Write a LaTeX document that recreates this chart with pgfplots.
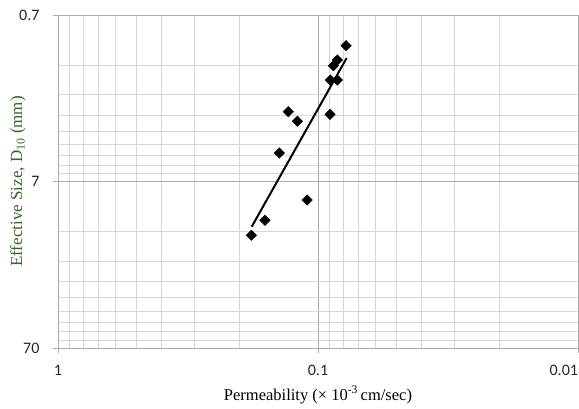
\documentclass[border=0pt]{standalone}
\usepackage{pgfplots}
\pgfplotsset{compat=1.18}
\usepackage{fontspec}
\setmainfont{Liberation Serif}
\newfontfamily\tickfont{Carlito}
\definecolor{ylab}{RGB}{56,100,44}
\definecolor{majgrid}{RGB}{170,170,170}
\definecolor{mingrid}{RGB}{215,215,215}
\begin{document}
\begin{tikzpicture}
\begin{axis}[
  at={(0,0)}, anchor=south west,
  scale only axis, width=520pt, height=333pt,
  xmode=log, ymode=log, x dir=reverse, y dir=reverse,
  xmin=0.01, xmax=1, ymin=0.7, ymax=70,
  xtick={0.01,0.1,1}, xticklabels={\makebox[0pt][r]{0.01},0.1,1},
  ytick={0.7,7,70}, yticklabels={0.7,7,70},
  minor xtick={0.02,0.03,0.04,0.05,0.06,0.07,0.08,0.09,0.2,0.3,0.4,0.5,0.6,0.7,0.8,0.9},
  minor ytick={1.4,2.1,2.8,3.5,4.2,4.9,5.6,6.3,14,21,28,35,42,49,56,63},
  grid=both,
  major grid style={majgrid, line width=0.8pt},
  minor grid style={mingrid, line width=0.8pt},
  axis line style={majgrid, line width=0.8pt},
  xtick pos=left, ytick pos=left,
  xticklabel pos=left, yticklabel pos=left,
  tick align=outside, major tick length=5pt, minor tick length=0pt,
  tick style={majgrid, line width=0.8pt},
  tick label style={font=\tickfont\fontsize{16}{18}\selectfont, text=black!85},
  xticklabel style={anchor=center, yshift=-17pt},
  yticklabel style={anchor=east, xshift=-10pt},
  xlabel={Permeability (\texttimes\ 10\textsuperscript{-3}\,cm/sec)},
  ylabel={Effective Size, D\textsubscript{10} (mm)},
  xlabel style={font=\fontsize{16.5}{18}\selectfont, at={(axis description cs:0.5,-0.141)}, anchor=center},
  ylabel style={font=\fontsize{17}{19}\selectfont, text=ylab, at={(axis description cs:-0.077,0.5)}, anchor=center},
  clip=false,
]
\addplot[black, line width=2pt] coordinates {(0.1799,13.08) (0.0776,1.269)};
\addplot[only marks, mark=square*, mark size=3.7pt, mark options={rotate=45, fill=black, draw=black}] coordinates {
(0.0780,1.070)
(0.0843,1.304)
(0.0873,1.411)
(0.0897,1.720)
(0.0843,1.720)
(0.0899,2.764)
(0.1301,2.666)
(0.1201,3.044)
(0.1408,4.721)
(0.1102,9.04)
(0.1600,11.97)
(0.1805,14.73)
};
\end{axis}
\pgfresetboundingbox
\useasboundingbox (-58pt,-60pt) rectangle (521pt,348pt);
\end{tikzpicture}
\end{document}
